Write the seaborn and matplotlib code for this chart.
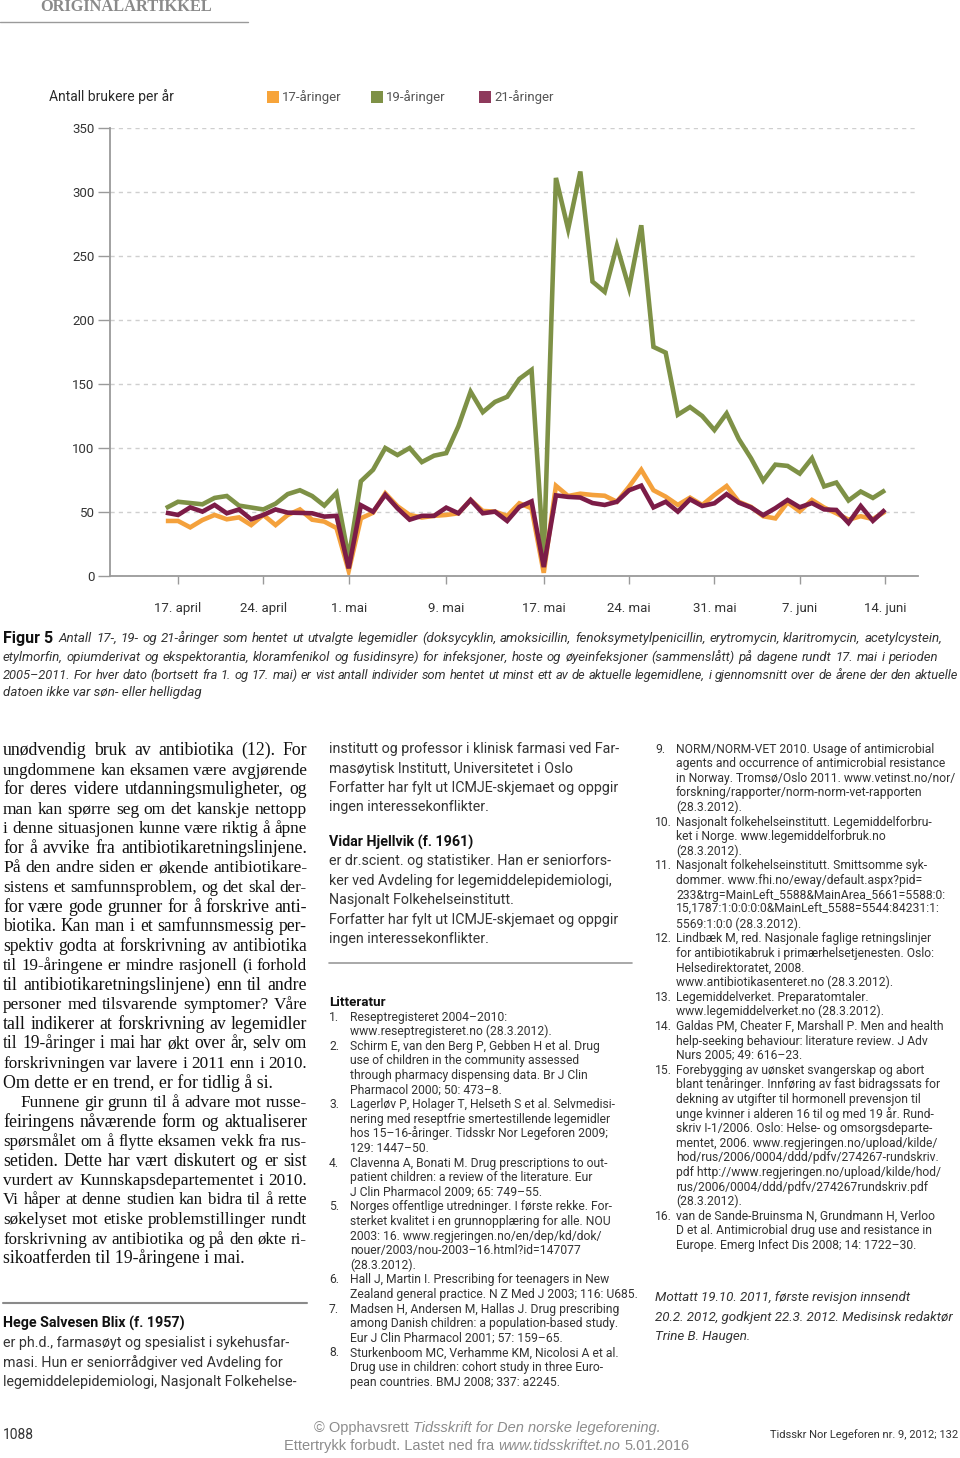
import numpy as np
import pandas as pd
import matplotlib
matplotlib.use("Agg")
import matplotlib.pyplot as plt
import seaborn as sns
from matplotlib.patches import Rectangle
from matplotlib.lines import Line2D

# ---------------- data ----------------
dates = pd.date_range("2011-04-16", "2011-06-14", freq="D")  # 60 days

aar17 = [43, 43, 38, 43.7, 47.7, 44.3, 45.8, 39.8, 47.7, 39.8, 47.7, 52, 44, 42.5, 37.5, 4,
         45, 49.5, 64.6, 54.5, 47.7, 45.7, 47, 47.7, 49, 59.4, 50.8, 50.3, 46.9, 56.8, 52.9, 2.5,
         70.5, 62.5, 64.3, 63.3, 62.7, 58, 69.8, 83, 67, 62, 55.5, 61.2, 55.5, 63.3, 70.3, 58,
         54, 46.7, 45, 57.5, 50.5, 59.4, 53.5, 49, 44, 46.7, 44.5, 50.3]
aar19 = [53, 58, 57, 56, 61, 62.5, 55, 53.5, 52, 56.5, 64, 67, 62.5, 55, 65, 14,
         74, 83, 100, 94.5, 100, 89, 94, 96, 117, 144, 128, 136, 140, 154, 161, 14,
         311, 271, 316, 230, 222, 258, 225, 274, 179, 174.5, 126, 132, 125, 114, 127, 107,
         92, 74.5, 87, 86, 80, 92, 70, 73, 59, 66, 61, 67]
aar21 = [49.5, 47.7, 53.6, 50.3, 55.5, 49, 52, 44.3, 47.7, 52, 49.5, 49.3, 49, 46.4, 47, 6,
         55.3, 50.2, 63.5, 52.9, 44, 47, 47, 53.4, 49, 59.4, 49, 50.3, 43, 54, 58.3, 7,
         63, 61.8, 61.3, 57, 55.5, 58, 67, 70.6, 53.6, 58, 50.3, 59.9, 54.7, 56.8, 64, 57.3,
         53.6, 47.5, 53, 59.4, 53.7, 57, 52, 51.6, 41.4, 54.7, 43.1, 51.8]

series_names = ["17-åringer", "19-åringer", "21-åringer"]
line_colors = {"17-åringer": "#F4A13C", "19-åringer": "#7E9146", "21-åringer": "#7C1C47"}
legend_colors = ["#F7A43A", "#7E9146", "#8E3A5C"]

yticks = [0, 50, 100, 150, 200, 250, 300, 350]
xtick_dates = ["2011-04-17", "2011-04-24", "2011-05-01", "2011-05-09", "2011-05-17",
               "2011-05-24", "2011-05-31", "2011-06-07", "2011-06-14"]
xtick_labels = ["17. april", "24. april", "1. mai", "9. mai", "17. mai",
                "24. mai", "31. mai", "7. juni", "14. juni"]

df = pd.concat([
    pd.DataFrame({"dato": dates, "antall": aar19, "gruppe": "19-åringer"}),
    pd.DataFrame({"dato": dates, "antall": aar17, "gruppe": "17-åringer"}),
    pd.DataFrame({"dato": dates, "antall": aar21, "gruppe": "21-åringer"}),
])

# ---------------- figure ----------------
sns.set_theme(style="white")
plt.rcParams["font.family"] = ["Roboto", "DejaVu Sans"]

W, H = 960, 1458
fig = plt.figure(figsize=(W / 100, H / 100), dpi=100)
fig.patch.set_facecolor("white")
renderer = fig.canvas.get_renderer()


def fx(x):
    return x / W


def fy(y):
    return 1 - y / H


ax = fig.add_axes([fx(110), fy(576), (918 - 110) / W, (576 - 128) / H])
sns.lineplot(data=df, x="dato", y="antall", hue="gruppe",
             hue_order=["19-åringer", "17-åringer", "21-åringer"],
             palette=line_colors, linewidth=3.3, legend=False, ax=ax)
for ln in ax.lines:
    ln.set_solid_joinstyle("miter")
    ln.set_solid_capstyle("butt")

ax.set_ylim(0, 350)
ax.set_xlim(dates[0] - pd.Timedelta(days=4.58), dates[0] + pd.Timedelta(days=61.7))
ax.set_yticks(yticks)
ax.set_yticklabels([str(v) for v in yticks])
ax.set_xticks(pd.to_datetime(xtick_dates))
ax.set_xticklabels(xtick_labels)
ax.set_xlabel("")
ax.set_ylabel("")
ax.yaxis.grid(True, linestyle=(0, (3, 3)), color="#cfcfcf", linewidth=1)
ax.xaxis.grid(False)
ax.set_axisbelow(True)
for s in ["top", "right"]:
    ax.spines[s].set_visible(False)
for s in ["left", "bottom"]:
    ax.spines[s].set_color("#9a9a9a")
    ax.spines[s].set_linewidth(1.3)
ax.tick_params(axis="y", direction="out", length=9, width=1, color="#9a9a9a",
               pad=2, labelsize=9.5, labelcolor="#333333", left=True)
ax.tick_params(axis="x", direction="out", length=6, width=1, color="#9a9a9a",
               pad=13, labelsize=9.5, labelcolor="#333333", bottom=True)


# ---------------- text helpers ----------------
def wpx(s, **kw):
    t = fig.text(0, 0, s, **kw)
    w = t.get_window_extent(renderer).width
    t.remove()
    return w


def T(x, y, s, size, ha="left", family="Roboto", style="normal", weight="normal",
      color="#2a2a2a"):
    off = 0.30 * size * 100 / 72
    fig.text(fx(x), fy(y + off), s, size=size, ha=ha, va="baseline", family=family,
             style=style, weight=weight, color=color)


def justify(x0, x1, y, s, size, family="Roboto", style="normal", weight="normal",
            color="#2a2a2a"):
    words = s.split()
    kw = dict(size=size, family=family, style=style, weight=weight)
    ws = [wpx(w, **kw) for w in words]
    sp = wpx("a a", **kw) - wpx("aa", **kw)
    natural = sum(ws) + sp * (len(words) - 1)
    target = x1 - x0
    if natural > target:
        size = size * target / natural * 0.995
        kw["size"] = size
        ws = [wpx(w, **kw) for w in words]
    gap = (target - sum(ws)) / max(len(words) - 1, 1)
    off = 0.30 * size * 100 / 72
    x = x0
    for w, wd in zip(words, ws):
        fig.text(fx(x), fy(y + off), w, va="baseline", color=color, **kw)
        x += wd + gap


def runs(xc, y, pieces, size, family, color):
    kw = dict(size=size, family=family)
    sp = wpx("a a", **kw) - wpx("aa", **kw)
    widths = [wpx(t, style=st, **kw) for t, st in pieces]
    total = sum(widths) + sp * (len(pieces) - 1)
    x = xc - total / 2
    off = 0.30 * size * 100 / 72
    for (t, st), wd in zip(pieces, widths):
        fig.text(fx(x), fy(y + off), t, va="baseline", style=st, color=color, **kw)
        x += wd + sp


# ---------------- header ----------------
T(40, 6, "ORIGINALARTIKKEL", 11.8, family="Liberation Serif", weight="bold", color="#8a8a8a")
fig.add_artist(Line2D([fx(0), fx(248)], [fy(22), fy(22)], color="#9a9a9a", lw=1,
                      transform=fig.transFigure))

# chart title and legend
T(49, 97, "Antall brukere per år", 10, color="#2a2a2a")
leg_x = [267, 371, 479]
for name, col, x in zip(series_names, legend_colors, leg_x):
    fig.add_artist(Rectangle((fx(x), fy(103)), 12 / W, 12 / H, transform=fig.transFigure,
                             facecolor=col, edgecolor="none"))
    T(x + 15, 97, name, 9.5, color="#555555")

# ---------------- caption ----------------
T(3, 638, "Figur 5", 11.5, weight="bold", color="#111111")
cap = [
    ("Antall 17-, 19- og 21-åringer som hentet ut utvalgte legemidler (doksycyklin, amoksicillin, fenoksymetylpenicillin, erytromycin, klaritromycin, acetylcystein,", 59, 942, 638, True),
    ("etylmorfin, opiumderivat og ekspektorantia, kloramfenikol og fusidinsyre) for infeksjoner, hoste og øyeinfeksjoner (sammenslått) på dagene rundt 17. mai i perioden", 3, 938, 657, True),
    ("2005–2011. For hver dato (bortsett fra 1. og 17. mai) er vist antall individer som hentet ut minst ett av de aktuelle legemidlene, i gjennomsnitt over de årene der den aktuelle", 3, 958, 675, True),
    ("datoen ikke var søn- eller helligdag", 3, 0, 692, False),
]
for s, x0, x1, y, j in cap:
    if j:
        justify(x0, x1, y, s, 9.6, style="italic", color="#333333")
    else:
        T(x0, y, s, 9.6, style="italic", color="#333333")

# ---------------- column 1 (serif, justified) ----------------
col1 = [
    ("unødvendig bruk av antibiotika (12). For", True, 3),
    ("ungdommene kan eksamen være avgjørende", True, 3),
    ("for deres videre utdanningsmuligheter, og", True, 3),
    ("man kan spørre seg om det kanskje nettopp", True, 3),
    ("i denne situasjonen kunne være riktig å åpne", True, 3),
    ("for å avvike fra antibiotikaretningslinjene.", True, 3),
    ("På den andre siden er økende antibiotikare-", True, 3),
    ("sistens et samfunnsproblem, og det skal der-", True, 3),
    ("for være gode grunner for å forskrive anti-", True, 3),
    ("biotika. Kan man i et samfunnsmessig per-", True, 3),
    ("spektiv godta at forskrivning av antibiotika", True, 3),
    ("til 19-åringene er mindre rasjonell (i forhold", True, 3),
    ("til antibiotikaretningslinjene) enn til andre", True, 3),
    ("personer med tilsvarende symptomer? Våre", True, 3),
    ("tall indikerer at forskrivning av legemidler", True, 3),
    ("til 19-åringer i mai har økt over år, selv om", True, 3),
    ("forskrivningen var lavere i 2011 enn i 2010.", True, 3),
    ("Om dette er en trend, er for tidlig å si.", False, 3),
    ("Funnene gir grunn til å advare mot russe-", True, 20),
    ("feiringens nåværende form og aktualiserer", True, 3),
    ("spørsmålet om å flytte eksamen vekk fra rus-", True, 3),
    ("setiden. Dette har vært diskutert og er sist", True, 3),
    ("vurdert av Kunnskapsdepartementet i 2010.", True, 3),
    ("Vi håper at denne studien kan bidra til å rette", True, 3),
    ("søkelyset mot etiske problemstillinger rundt", True, 3),
    ("forskrivning av antibiotika og på den økte ri-", True, 3),
    ("sikoatferden til 19-åringene i mai.", False, 3),
]
for k, (s, j, x0) in enumerate(col1):
    y = 750 + k * 19.54
    if j:
        justify(x0, 307, y, s, 12.8, family="Liberation Serif", color="#111111")
    else:
        T(x0, y, s, 12.8, family="Liberation Serif", color="#111111")

fig.add_artist(Line2D([fx(3), fx(307)], [fy(1303), fy(1303)], color="#8a8a8a", lw=1.5,
                      transform=fig.transFigure))
T(3, 1323, "Hege Salvesen Blix (f. 1957)", 10.3, weight="bold", color="#111111")
for k, s in enumerate(["er ph.d., farmasøyt og spesialist i sykehusfar-",
                       "masi. Hun er seniorrådgiver ved Avdeling for",
                       "legemiddelepidemiologi, Nasjonalt Folkehelse-"]):
    T(3, 1343 + k * 19.5, s, 10.3, color="#333333")

# ---------------- column 2 ----------------
col2a = ["institutt og professor i klinisk farmasi ved Far-",
         "masøytisk Institutt, Universitetet i Oslo",
         "Forfatter har fylt ut ICMJE-skjemaet og oppgir",
         "ingen interessekonflikter."]
for k, s in enumerate(col2a):
    T(329, 749 + k * 19.4, s, 10.3, color="#333333")
T(329, 842, "Vidar Hjellvik (f. 1961)", 10.3, weight="bold", color="#111111")
col2b = ["er dr.scient. og statistiker. Han er seniorfors-",
         "ker ved Avdeling for legemiddelepidemiologi,",
         "Nasjonalt Folkehelseinstitutt.",
         "Forfatter har fylt ut ICMJE-skjemaet og oppgir",
         "ingen interessekonflikter."]
for k, s in enumerate(col2b):
    T(329, 861 + k * 19.5, s, 10.3, color="#333333")
fig.add_artist(Line2D([fx(329), fx(632)], [fy(963), fy(963)], color="#9a9a9a", lw=1.2,
                      transform=fig.transFigure))
T(329, 1002, "Litteratur", 9.6, weight="bold", color="#111111")

refs_a = [
    ("1.", "Reseptregisteret 2004–2010:"),
    ("", "www.reseptregisteret.no (28.3.2012)."),
    ("2.", "Schirm E, van den Berg P, Gebben H et al. Drug"),
    ("", "use of children in the community assessed"),
    ("", "through pharmacy dispensing data. Br J Clin"),
    ("", "Pharmacol 2000; 50: 473–8."),
    ("3.", "Lagerløv P, Holager T, Helseth S et al. Selvmedisi-"),
    ("", "nering med reseptfrie smertestillende legemidler"),
    ("", "hos 15–16-åringer. Tidsskr Nor Legeforen 2009;"),
    ("", "129: 1447–50."),
    ("4.", "Clavenna A, Bonati M. Drug prescriptions to out-"),
    ("", "patient children: a review of the literature. Eur"),
    ("", "J Clin Pharmacol 2009; 65: 749–55."),
    ("5.", "Norges offentlige utredninger. I første rekke. For-"),
    ("", "sterket kvalitet i en grunnopplæring for alle. NOU"),
    ("", "2003: 16. www.regjeringen.no/en/dep/kd/dok/"),
    ("", "nouer/2003/nou-2003–16.html?id=147077"),
    ("", "(28.3.2012)."),
    ("6.", "Hall J, Martin I. Prescribing for teenagers in New"),
    ("", "Zealand general practice. N Z Med J 2003; 116: U685."),
    ("7.", "Madsen H, Andersen M, Hallas J. Drug prescribing"),
    ("", "among Danish children: a population-based study."),
    ("", "Eur J Clin Pharmacol 2001; 57: 159–65."),
    ("8.", "Sturkenboom MC, Verhamme KM, Nicolosi A et al."),
    ("", "Drug use in children: cohort study in three Euro-"),
    ("", "pean countries. BMJ 2008; 337: a2245."),
]
for k, (n, s) in enumerate(refs_a):
    y = 1017 + k * 14.6
    if n:
        T(329, y, n, 8.7, color="#333333")
    T(350, y, s, 8.7, color="#333333")

# ---------------- column 3 ----------------
refs_b = [
    ("9.", "NORM/NORM-VET 2010. Usage of antimicrobial"),
    ("", "agents and occurrence of antimicrobial resistance"),
    ("", "in Norway. Tromsø/Oslo 2011. www.vetinst.no/nor/"),
    ("", "forskning/rapporter/norm-norm-vet-rapporten"),
    ("", "(28.3.2012)."),
    ("10.", "Nasjonalt folkehelseinstitutt. Legemiddelforbru-"),
    ("", "ket i Norge. www.legemiddelforbruk.no"),
    ("", "(28.3.2012)."),
    ("11.", "Nasjonalt folkehelseinstitutt. Smittsomme syk-"),
    ("", "dommer. www.fhi.no/eway/default.aspx?pid="),
    ("", "233&trg=MainLeft_5588&MainArea_5661=5588:0:"),
    ("", "15,1787:1:0:0:0:0&MainLeft_5588=5544:84231:1:"),
    ("", "5569:1:0:0 (28.3.2012)."),
    ("12.", "Lindbæk M, red. Nasjonale faglige retningslinjer"),
    ("", "for antibiotikabruk i primærhelsetjenesten. Oslo:"),
    ("", "Helsedirektoratet, 2008."),
    ("", "www.antibiotikasenteret.no (28.3.2012)."),
    ("13.", "Legemiddelverket. Preparatomtaler."),
    ("", "www.legemiddelverket.no (28.3.2012)."),
    ("14.", "Galdas PM, Cheater F, Marshall P. Men and health"),
    ("", "help-seeking behaviour: literature review. J Adv"),
    ("", "Nurs 2005; 49: 616–23."),
    ("15.", "Forebygging av uønsket svangerskap og abort"),
    ("", "blant tenåringer. Innføring av fast bidragssats for"),
    ("", "dekning av utgifter til hormonell prevensjon til"),
    ("", "unge kvinner i alderen 16 til og med 19 år. Rund-"),
    ("", "skriv I-1/2006. Oslo: Helse- og omsorgsdeparte-"),
    ("", "mentet, 2006. www.regjeringen.no/upload/kilde/"),
    ("", "hod/rus/2006/0004/ddd/pdfv/274267-rundskriv."),
    ("", "pdf http://www.regjeringen.no/upload/kilde/hod/"),
    ("", "rus/2006/0004/ddd/pdfv/274267rundskriv.pdf"),
    ("", "(28.3.2012)."),
    ("16.", "van de Sande-Bruinsma N, Grundmann H, Verloo"),
    ("", "D et al. Antimicrobial drug use and resistance in"),
    ("", "Europe. Emerg Infect Dis 2008; 14: 1722–30."),
]
for k, (n, s) in enumerate(refs_b):
    y = 749 + k * 14.6
    if n:
        T(655, y, n, 8.7, color="#333333")
    T(676, y, s, 8.7, color="#333333")

for k, s in enumerate(["Mottatt 19.10. 2011, første revisjon innsendt",
                       "20.2. 2012, godkjent 22.3. 2012. Medisinsk redaktør",
                       "Trine B. Haugen."]):
    T(655, 1297 + k * 19.5, s, 9.6, style="italic", color="#333333")

# ---------------- footer ----------------
T(3, 1435, "1088", 10, color="#333333")
runs(487, 1428, [("© Opphavsrett", "normal"),
                 ("Tidsskrift for Den norske legeforening.", "italic")],
     10.5, "Liberation Sans", "#8c8c8c")
runs(487, 1446, [("Ettertrykk forbudt. Lastet ned fra", "normal"),
                 ("www.tidsskriftet.no", "italic"), ("5.01.2016", "normal")],
     10.5, "Liberation Sans", "#8c8c8c")
T(958, 1435, "Tidsskr Nor Legeforen nr. 9, 2012; 132", 8, ha="right", color="#333333")

fig.savefig("out.png", dpi=100, facecolor="white")
